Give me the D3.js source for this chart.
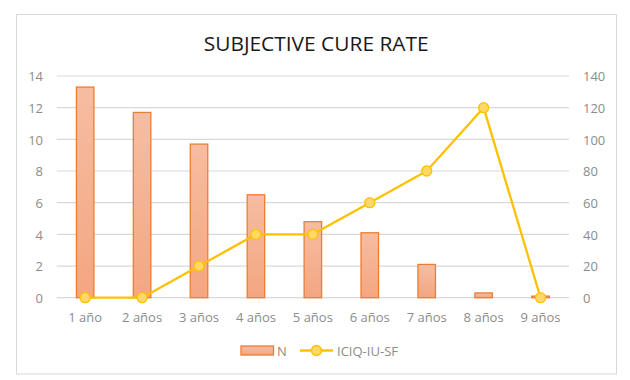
<!DOCTYPE html>
<html>
<head>
<meta charset="utf-8">
<script src="https://cdn.jsdelivr.net/npm/d3@7"></script>
<style>
  html, body { margin: 0; padding: 0; background: #fff; }
  svg { display: block; }
  text { font-family: "Open Sans", "Liberation Sans", sans-serif; }
</style>
</head>
<body>
<svg id="chart" width="630" height="380"></svg>
<script>
const categories = ["1 año", "2 años", "3 años", "4 años", "5 años", "6 años", "7 años", "8 años", "9 años"];
const nValues = [13.3, 11.7, 9.7, 6.5, 4.8, 4.1, 2.1, 0.3, 0.1];
const iciqValues = [0, 0, 20, 40, 40, 60, 80, 120, 0];
const leftTicks = [0, 2, 4, 6, 8, 10, 12, 14];
const rightTicks = [0, 20, 40, 60, 80, 100, 120, 140];
const title = "SUBJECTIVE CURE RATE";
const seriesNames = ["N", "ICIQ-IU-SF"];

const svg = d3.select("#chart");
const plot = { left: 56.7, right: 569, top: 76, bottom: 297.7 };

// chart border
svg.append("rect")
  .attr("x", 16.5).attr("y", 14.5)
  .attr("width", 600).attr("height", 359.5)
  .attr("fill", "#fff").attr("stroke", "#d9d9d9").attr("stroke-width", 1);

const defs = svg.append("defs");
const grad = defs.append("linearGradient")
  .attr("id", "barGrad").attr("x1", 0).attr("y1", 0).attr("x2", 0).attr("y2", 1);
grad.append("stop").attr("offset", "0%").attr("stop-color", "#f6bda2");
grad.append("stop").attr("offset", "100%").attr("stop-color", "#f4a680");

const x = d3.scaleBand().domain(categories).range([plot.left, plot.right]).paddingInner(0).paddingOuter(0);
const yL = d3.scaleLinear().domain([0, 14]).range([plot.bottom, plot.top]);
const yR = d3.scaleLinear().domain([0, 140]).range([plot.bottom, plot.top]);

// gridlines
svg.append("g").selectAll("line").data(leftTicks).join("line")
  .attr("x1", plot.left).attr("x2", plot.right)
  .attr("y1", d => yL(d)).attr("y2", d => yL(d))
  .attr("stroke", "#d9d9d9").attr("stroke-width", 1.2);

// left axis labels
const leftAxis = d3.axisLeft(yL).tickValues(leftTicks).tickSize(0).tickPadding(0);
const gL = svg.append("g").attr("transform", `translate(43,0)`).call(leftAxis);
gL.select(".domain").remove();
gL.selectAll("text").attr("fill", "#8c8c8c").attr("font-size", "13px")
  .attr("font-family", "'Open Sans', sans-serif").attr("dy", "0.36em");

// right axis labels
const rightAxis = d3.axisRight(yR).tickValues(rightTicks).tickSize(0).tickPadding(0);
const gR = svg.append("g").attr("transform", `translate(583,0)`).call(rightAxis);
gR.select(".domain").remove();
gR.selectAll("text").attr("fill", "#8c8c8c").attr("font-size", "13px")
  .attr("font-family", "'Open Sans', sans-serif").attr("dy", "0.36em");

// x axis labels
const xAxis = d3.axisBottom(x).tickSize(0).tickPadding(0);
const gX = svg.append("g").attr("transform", `translate(0,${plot.bottom})`).call(xAxis);
gX.select(".domain").remove();
gX.selectAll("text").attr("fill", "#8c8c8c").attr("font-size", "13px")
  .attr("font-family", "'Open Sans', sans-serif").attr("dy", "0").attr("y", 24);

// bars
const barW = 17.5;
svg.append("g").selectAll("rect").data(nValues).join("rect")
  .attr("x", (d, i) => x(categories[i]) + x.bandwidth() / 2 - barW / 2)
  .attr("y", d => yL(d))
  .attr("width", barW)
  .attr("height", d => yL(0) - yL(d))
  .attr("fill", "url(#barGrad)")
  .attr("stroke", "#ed7d31").attr("stroke-width", 1.3);

// line
const line = d3.line()
  .x((d, i) => x(categories[i]) + x.bandwidth() / 2)
  .y(d => yR(d));
svg.append("path").datum(iciqValues)
  .attr("d", line).attr("fill", "none")
  .attr("stroke", "#ffc000").attr("stroke-width", 2.3).attr("stroke-linejoin", "round");
svg.append("g").selectAll("circle").data(iciqValues).join("circle")
  .attr("cx", (d, i) => x(categories[i]) + x.bandwidth() / 2)
  .attr("cy", d => yR(d))
  .attr("r", 5)
  .attr("fill", "#ffd966").attr("stroke", "#ffc000").attr("stroke-width", 1.3);

// title
svg.append("text")
  .attr("x", 316.2).attr("y", 50.7)
  .attr("text-anchor", "middle")
  .attr("font-size", "19.5px")
  .attr("fill", "#1a1a1a")
  .attr("textLength", 225).attr("lengthAdjust", "spacingAndGlyphs")
  .text(title);

// legend
const lg = svg.append("g");
lg.append("rect").attr("x", 241).attr("y", 346).attr("width", 32.5).attr("height", 9)
  .attr("fill", "url(#barGrad)").attr("stroke", "#ed7d31").attr("stroke-width", 1.3);
lg.append("text").attr("x", 277).attr("y", 355.5).attr("fill", "#8c8c8c")
  .attr("font-size", "13px").text(seriesNames[0]);
lg.append("line").attr("x1", 300).attr("x2", 333).attr("y1", 350.5).attr("y2", 350.5)
  .attr("stroke", "#ffc000").attr("stroke-width", 2.3);
lg.append("circle").attr("cx", 316.5).attr("cy", 350.5).attr("r", 5)
  .attr("fill", "#ffd966").attr("stroke", "#ffc000").attr("stroke-width", 1.3);
lg.append("text").attr("x", 337).attr("y", 355.5).attr("fill", "#8c8c8c")
  .attr("font-size", "13px")
  .attr("textLength", 61).attr("lengthAdjust", "spacingAndGlyphs")
  .text(seriesNames[1]);
</script>
</body>
</html>
